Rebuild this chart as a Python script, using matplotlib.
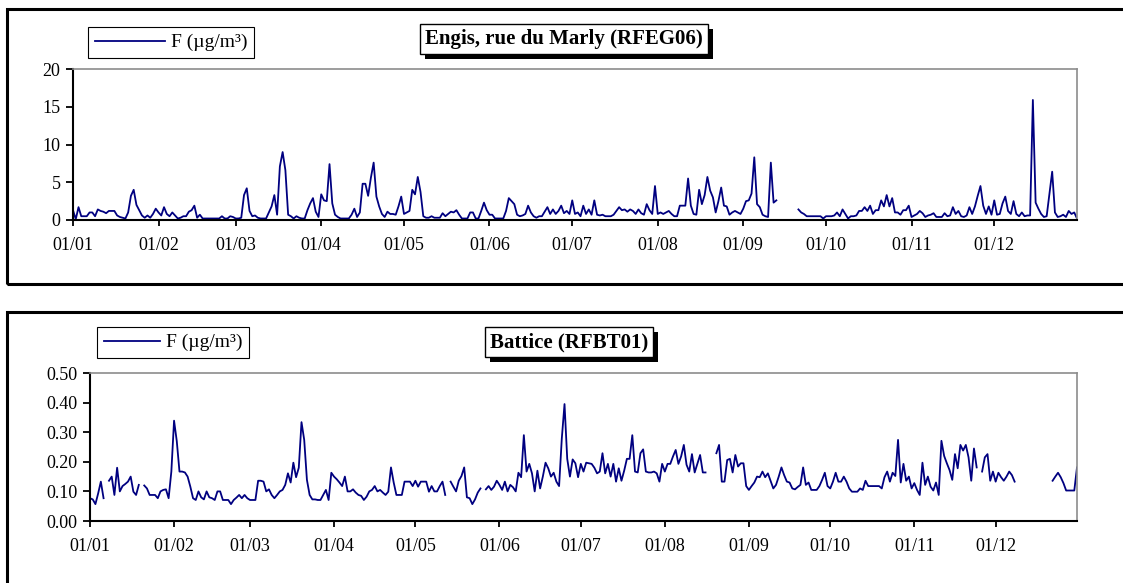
import numpy as np
import pandas as pd
import matplotlib
matplotlib.use("Agg")
import matplotlib.pyplot as plt
import matplotlib.dates as mdates
import matplotlib.patheffects as pe
from matplotlib.patches import Rectangle

nan = np.nan

# daily fluoride values, Engis (ug/m3)
engis_jan = [1.3, 0.1, 1.7, 0.5, 0.5, 0.5, 1.0, 1.0, 0.5, 1.4, 1.2, 1.1, 0.9, 1.2, 1.2, 1.2,
             0.6, 0.4, 0.3, 0.2, 1.0, 3.2, 4.0, 2.0, 1.3, 0.6, 0.3, 0.6, 0.3, 0.8, 1.5]
engis_feb = [1.0, 0.6, 1.7, 0.8, 0.5, 1.0, 0.6, 0.2, 0.3, 0.5, 0.5, 1.1, 1.3, 1.9, 0.3, 0.7,
             0.2, 0.2, 0.2, 0.2, 0.2, 0.2, 0.2, 0.5, 0.2, 0.2, 0.5, 0.4]
engis_mar = [0.2, 0.2, 0.3, 3.3, 4.2, 1.2, 0.5, 0.6, 0.3, 0.2, 0.2, 0.2, 1.0, 1.8, 3.3, 0.7,
             7.1, 9.0, 6.6, 0.7, 0.5, 0.2, 0.5, 0.3, 0.2, 0.2, 1.3, 2.2, 2.9, 1.1, 0.4]
engis_apr = [3.4, 2.6, 2.5, 7.4, 2.2, 0.7, 0.4, 0.2, 0.2, 0.2, 0.2, 0.7, 1.5, 0.4, 1.0, 4.8,
             4.8, 3.2, 5.6, 7.6, 3.1, 1.8, 0.8, 0.4, 1.1, 0.8, 0.8, 0.7, 1.8, 3.1]
engis_may = [0.8, 1.0, 1.2, 4.0, 3.4, 5.7, 3.7, 0.5, 0.3, 0.3, 0.5, 0.3, 0.3, 0.3, 0.9, 0.5,
             0.8, 1.1, 1.0, 1.3, 0.7, 0.2, 0.2, 0.2, 1.0, 1.0, 0.2, 0.2, 1.2, 2.3, 1.3]
engis_jun = [0.7, 0.7, 0.2, 0.2, 0.2, 0.2, 1.2, 2.9, 2.5, 2.1, 0.7, 0.5, 0.6, 0.8, 1.9, 1.0,
             0.5, 0.3, 0.5, 0.5, 1.1, 1.7, 0.8, 1.4, 0.8, 1.2, 1.9, 0.9, 1.2, 0.8]
engis_jul = [2.6, 0.8, 1.0, 0.5, 1.9, 0.8, 1.4, 0.7, 2.6, 0.7, 0.6, 0.7, 0.5, 0.5, 0.5, 0.7,
             1.2, 1.7, 1.3, 1.4, 1.1, 1.4, 1.2, 0.8, 1.4, 0.9, 0.7, 2.1, 1.3, 0.8, 4.5]
engis_aug = [0.8, 1.0, 0.8, 1.0, 1.2, 0.8, 0.5, 0.5, 1.9, 1.9, 1.9, 5.5, 1.9, 0.8, 0.7, 4.0,
             2.1, 3.3, 5.7, 3.9, 3.0, 1.0, 2.5, 4.3, 1.9, 1.8, 0.7, 1.0, 1.2, 1.0, 0.8]
engis_sep = [1.5, 2.5, 2.6, 3.5, 8.3, 2.1, 1.7, 0.7, 0.5, 0.4, 7.6, 2.3, 2.6,
             nan, nan, nan, nan, nan, nan, nan,
             1.4, 1.0, 0.8, 0.5, 0.5, 0.5, 0.5, 0.5, 0.5, 0.2]
engis_oct = [0.5, 0.5, 0.5, 0.6, 1.0, 0.5, 1.4, 0.8, 0.2, 0.5, 0.5, 0.6, 1.2, 1.2, 1.7, 1.2,
             1.9, 0.8, 1.3, 1.3, 2.6, 1.8, 3.3, 1.8, 2.9, 1.0, 1.0, 0.7, 1.3, 1.3, 1.9]
engis_nov = [0.4, 0.6, 0.8, 1.2, 0.9, 0.4, 0.6, 0.7, 0.9, 0.4, 0.4, 0.4, 0.9, 0.5, 0.6, 1.7,
             0.8, 1.2, 0.5, 0.4, 0.6, 1.7, 0.8, 1.8, 3.2, 4.5, 1.9, 0.8, 1.8, 0.7]
engis_dec = [2.6, 0.7, 0.8, 2.2, 3.1, 1.2, 0.8, 2.5, 0.8, 0.5, 1.0, 0.5, 0.6, 0.6, 15.9, 2.3,
             1.5, 0.8, 0.4, 0.5, 3.5, 6.4, 1.0, 0.4, 0.5, 0.7, 0.4, 1.2, 0.8, 1.0, 0.2]

# daily fluoride values, Battice (ug/m3)
battice_jan = [0.077, 0.073, 0.057, 0.093, 0.133, 0.077, nan, 0.136, 0.150, 0.088, 0.180,
               0.100, 0.118, 0.125, 0.133, 0.150, 0.099, 0.088, 0.122, nan, 0.120, 0.110,
               0.088, 0.088, 0.088, 0.077, 0.100, 0.105, 0.107, 0.077, 0.167]
battice_feb = [0.339, 0.270, 0.167, 0.167, 0.164, 0.150, 0.116, 0.077, 0.071, 0.100, 0.080,
               0.073, 0.100, 0.080, 0.077, 0.071, 0.100, 0.100, 0.071, 0.071, 0.071, 0.057,
               0.071, 0.079, 0.088, 0.077, 0.088, 0.077]
battice_mar = [0.071, 0.071, 0.071, 0.136, 0.136, 0.133, 0.100, 0.107, 0.088, 0.077, 0.088,
               0.100, 0.105, 0.122, 0.161, 0.130, 0.197, 0.148, 0.180, 0.334, 0.274, 0.139,
               0.088, 0.073, 0.073, 0.071, 0.071, 0.088, 0.105, 0.071, 0.163]
battice_apr = [0.150, 0.141, 0.130, 0.118, 0.150, 0.100, 0.100, 0.107, 0.096, 0.088, 0.085,
               0.071, 0.082, 0.100, 0.105, 0.118, 0.100, 0.105, 0.096, 0.088, 0.099, 0.181,
               0.130, 0.088, 0.088, 0.088, 0.133, 0.133, 0.133, 0.118]
battice_may = [0.136, 0.116, 0.133, 0.133, 0.133, 0.099, 0.118, 0.100, 0.100, 0.118, 0.133,
               0.088, nan, 0.133, 0.116, 0.100, 0.136, 0.152, 0.181, 0.080, 0.077, 0.057,
               0.073, 0.096, 0.110, nan, 0.107, 0.118, 0.105, 0.116, 0.136]
battice_jun = [0.122, 0.105, 0.133, 0.100, 0.122, 0.114, 0.100, 0.163, 0.148, 0.290, 0.167,
               0.193, 0.161, 0.100, 0.170, 0.110, 0.150, 0.197, 0.178, 0.150, 0.163, 0.133,
               0.118, 0.279, 0.395, 0.210, 0.150, 0.208, 0.195, 0.148]
battice_jul = [0.193, 0.167, 0.197, 0.195, 0.193, 0.180, 0.161, 0.167, 0.229, 0.161, 0.193,
               0.150, 0.193, 0.133, 0.178, 0.136, 0.170, 0.210, 0.210, 0.290, 0.167, 0.164,
               0.229, 0.242, 0.167, 0.164, 0.164, 0.167, 0.161, 0.133, 0.193]
battice_aug = [0.167, 0.193, 0.193, 0.218, 0.240, 0.193, 0.218, 0.257, 0.190, 0.167, 0.226,
               0.164, 0.193, 0.223, 0.164, 0.164, nan, nan, nan, 0.229, 0.257, 0.133,
               0.133, 0.206, 0.210, 0.164, 0.223, 0.184, 0.195, 0.195, 0.118]
battice_sep = [0.105, 0.118, 0.130, 0.150, 0.148, 0.167, 0.148, 0.161, 0.136, 0.110, 0.122,
               0.150, 0.181, 0.155, 0.133, 0.130, 0.110, 0.107, 0.115, 0.122, 0.181, 0.122,
               0.130, 0.105, 0.105, 0.105, 0.118, 0.139, 0.163, 0.118]
battice_oct = [0.110, 0.133, 0.163, 0.133, 0.133, 0.150, 0.133, 0.110, 0.099, 0.099, 0.099,
               0.110, 0.105, 0.136, 0.118, 0.118, 0.118, 0.118, 0.118, 0.110, 0.148, 0.167,
               0.133, 0.163, 0.152, 0.274, 0.130, 0.193, 0.136, 0.150, 0.110]
battice_nov = [0.128, 0.105, 0.088, 0.197, 0.122, 0.150, 0.116, 0.103, 0.130, 0.088, 0.271,
               0.220, 0.195, 0.172, 0.139, 0.226, 0.178, 0.257, 0.238, 0.257, 0.215, 0.136,
               0.245, 0.181, nan, 0.167, 0.215, 0.226, 0.136, 0.167]
battice_dec = [0.133, 0.163, 0.148, 0.136, 0.150, 0.167, 0.155, 0.133,
               nan, nan, nan, nan, nan, nan, nan, nan, nan, nan, nan, nan, nan,
               0.136, 0.150, 0.163, 0.148, 0.128, 0.103, 0.103, 0.103, 0.103, 0.181]

engis = (engis_jan + engis_feb + engis_mar + engis_apr + engis_may + engis_jun +
         engis_jul + engis_aug + engis_sep + engis_oct + engis_nov + engis_dec)
battice = (battice_jan + battice_feb + battice_mar + battice_apr + battice_may + battice_jun +
           battice_jul + battice_aug + battice_sep + battice_oct + battice_nov + battice_dec)

days = pd.date_range("2010-01-01", "2010-12-31", freq="D")

legend_label = "F (µg/m³)"
title_top = "Engis, rue du Marly (RFEG06)"
title_bottom = "Battice (RFBT01)"
yticks_top = [0, 5, 10, 15, 20]
yticks_bottom = [0.0, 0.1, 0.2, 0.3, 0.4, 0.5]

plt.rcParams['font.family'] = ['Liberation Serif', 'DejaVu Serif']

W, H = 1123, 583
fig = plt.figure(figsize=(W / 100, H / 100), dpi=100)


def px(x0, y0, x1, y1):
    # pixel box (top-left origin) -> figure fraction [left, bottom, width, height]
    return [x0 / W, 1 - y1 / H, (x1 - x0) / W, (y1 - y0) / H]


def style_axes(ax, yticks, fmt):
    ax.set_xlim(days[0], days[-1])
    ax.set_ylim(yticks[0], yticks[-1])
    ax.set_yticks(yticks)
    ax.yaxis.set_major_formatter(plt.FormatStrFormatter(fmt))
    ax.xaxis.set_major_locator(mdates.MonthLocator())
    ax.xaxis.set_major_formatter(mdates.DateFormatter('%d/%m'))
    for side in ['top', 'right']:
        ax.spines[side].set_color('#8c8c8c')
        ax.spines[side].set_linewidth(1.2)
    for side in ['left', 'bottom']:
        ax.spines[side].set_color('black')
        ax.spines[side].set_linewidth(1.5)
    ax.tick_params(direction='out', width=1.3, labelsize=13, colors='black')
    ax.tick_params(axis='x', length=4, pad=8)
    ax.tick_params(axis='y', length=5, pad=4)


def add_legend(ax, x, y, hlen):
    leg = ax.legend(loc='upper left', bbox_to_anchor=(x / W, 1 - y / H),
                    bbox_transform=fig.transFigure, borderaxespad=0, fancybox=False,
                    edgecolor='black', framealpha=1, fontsize=14, handlelength=hlen,
                    borderpad=0.35, handletextpad=0.3)
    leg.get_frame().set_linewidth(0.8)


def add_title(text, x, y):
    t = fig.text(x, y, text, ha='center', va='center', fontsize=15, fontweight='bold',
                 bbox=dict(boxstyle='square,pad=0.25', fc='white', ec='black', lw=1.0))
    t.get_bbox_patch().set_path_effects([
        pe.SimplePatchShadow(offset=(3.5, -3.5), shadow_rgbFace='black', alpha=1.0),
        pe.Normal()])


# outer frames
fig.add_artist(Rectangle((7 / W, 1 - 284 / H), 1.2, (284 - 9) / H, transform=fig.transFigure,
                         fill=False, ec='black', lw=2.2))
fig.add_artist(Rectangle((7 / W, -0.2), 1.2, 0.2 + 1 - 312 / H, transform=fig.transFigure,
                         fill=False, ec='black', lw=2.2))

ax1 = fig.add_axes(px(73, 69, 1077, 220))
ax1.plot(days, engis, color='#000080', lw=1.3, label=legend_label)
style_axes(ax1, yticks_top, '%d')
add_legend(ax1, 88, 27, 3.6)
add_title(title_top, 564 / W, 1 - 39 / H)

ax2 = fig.add_axes(px(90, 373, 1077, 521))
ax2.plot(days, battice, color='#000080', lw=1.3, label=legend_label)
style_axes(ax2, yticks_bottom, '%.2f')
add_legend(ax2, 97, 327, 2.9)
add_title(title_bottom, 569 / W, 1 - 342 / H)

fig.savefig("out.png", dpi=100)
